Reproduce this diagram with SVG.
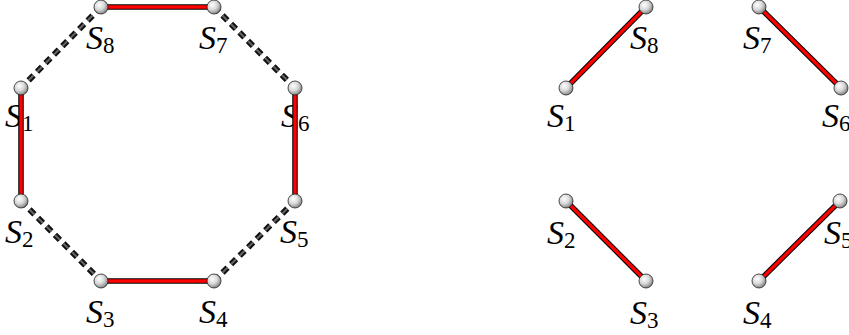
<svg xmlns="http://www.w3.org/2000/svg" width="849" height="335" viewBox="0 0 849 335">
<style>
.lbl{font-family:"Liberation Serif","DejaVu Serif",serif;font-size:34px;fill:#000}
.s{font-style:italic}
.sub{font-size:23px}
.ro{stroke:#000;stroke-width:5.5;fill:none}
.ri{stroke:#ff0000;stroke-width:3.4;fill:none}
.dO{stroke:#111;stroke-width:6;stroke-dasharray:7 5;fill:none}
.dI{stroke:#666;stroke-width:2;stroke-dasharray:7 5;fill:none}
.node{fill:url(#ball);stroke:#222;stroke-width:0.8}
</style>
<defs>
<radialGradient id="ball" cx="0.38" cy="0.35" r="0.7">
<stop offset="0" stop-color="#ffffff"/>
<stop offset="0.5" stop-color="#d8d8d8"/>
<stop offset="1" stop-color="#7a7a7a"/>
</radialGradient>
</defs>
<g id="labels">
<text class="lbl" x="86" y="49"><tspan class="s">S</tspan><tspan class="sub" dy="4">8</tspan></text>
<text class="lbl" x="199" y="49"><tspan class="s">S</tspan><tspan class="sub" dy="4">7</tspan></text>
<text class="lbl" x="5" y="127"><tspan class="s">S</tspan><tspan class="sub" dy="4">1</tspan></text>
<text class="lbl" x="281" y="127"><tspan class="s">S</tspan><tspan class="sub" dy="4">6</tspan></text>
<text class="lbl" x="5" y="243"><tspan class="s">S</tspan><tspan class="sub" dy="4">2</tspan></text>
<text class="lbl" x="280" y="243"><tspan class="s">S</tspan><tspan class="sub" dy="4">5</tspan></text>
<text class="lbl" x="86" y="323"><tspan class="s">S</tspan><tspan class="sub" dy="4">3</tspan></text>
<text class="lbl" x="199" y="323"><tspan class="s">S</tspan><tspan class="sub" dy="4">4</tspan></text>
<text class="lbl" x="630" y="49"><tspan class="s">S</tspan><tspan class="sub" dy="4">8</tspan></text>
<text class="lbl" x="743" y="49"><tspan class="s">S</tspan><tspan class="sub" dy="4">7</tspan></text>
<text class="lbl" x="547" y="127"><tspan class="s">S</tspan><tspan class="sub" dy="4">1</tspan></text>
<text class="lbl" x="822" y="127"><tspan class="s">S</tspan><tspan class="sub" dy="4">6</tspan></text>
<text class="lbl" x="547" y="244"><tspan class="s">S</tspan><tspan class="sub" dy="4">2</tspan></text>
<text class="lbl" x="824" y="244"><tspan class="s">S</tspan><tspan class="sub" dy="4">5</tspan></text>
<text class="lbl" x="630" y="324"><tspan class="s">S</tspan><tspan class="sub" dy="4">3</tspan></text>
<text class="lbl" x="743" y="324"><tspan class="s">S</tspan><tspan class="sub" dy="4">4</tspan></text>
</g>
<g id="connectors">
<line class="dO" x1="101" y1="7" x2="21" y2="88"/><line class="dI" x1="101" y1="7" x2="21" y2="88"/>
<line class="dO" x1="214" y1="7" x2="295" y2="88"/><line class="dI" x1="214" y1="7" x2="295" y2="88"/>
<line class="dO" x1="21" y1="201" x2="101" y2="281"/><line class="dI" x1="21" y1="201" x2="101" y2="281"/>
<line class="dO" x1="214" y1="281" x2="295" y2="201"/><line class="dI" x1="214" y1="281" x2="295" y2="201"/>
<line class="ro" x1="101" y1="7" x2="214" y2="7"/><line class="ri" x1="101" y1="7" x2="214" y2="7"/>
<line class="ro" x1="21" y1="88" x2="21" y2="201"/><line class="ri" x1="21" y1="88" x2="21" y2="201"/>
<line class="ro" x1="101" y1="281" x2="214" y2="281"/><line class="ri" x1="101" y1="281" x2="214" y2="281"/>
<line class="ro" x1="295" y1="88" x2="295" y2="201"/><line class="ri" x1="295" y1="88" x2="295" y2="201"/>
<line class="ro" x1="566" y1="88" x2="646" y2="7"/><line class="ri" x1="566" y1="88" x2="646" y2="7"/>
<line class="ro" x1="759" y1="7" x2="841" y2="88"/><line class="ri" x1="759" y1="7" x2="841" y2="88"/>
<line class="ro" x1="566" y1="201" x2="646" y2="281"/><line class="ri" x1="566" y1="201" x2="646" y2="281"/>
<line class="ro" x1="759" y1="281" x2="840" y2="201"/><line class="ri" x1="759" y1="281" x2="840" y2="201"/>
</g>
<g id="S1"><circle class="node" cx="21" cy="88" r="7"/></g>
<g id="S2"><circle class="node" cx="21" cy="201" r="7"/></g>
<g id="S3"><circle class="node" cx="101" cy="281" r="7"/></g>
<g id="S4"><circle class="node" cx="214" cy="281" r="7"/></g>
<g id="S5"><circle class="node" cx="295" cy="201" r="7"/></g>
<g id="S6"><circle class="node" cx="295" cy="88" r="7"/></g>
<g id="S7"><circle class="node" cx="214" cy="7" r="7"/></g>
<g id="S8"><circle class="node" cx="101" cy="7" r="7"/></g>
<g id="R1"><circle class="node" cx="566" cy="88" r="7"/></g>
<g id="R8"><circle class="node" cx="646" cy="7" r="7"/></g>
<g id="R7"><circle class="node" cx="759" cy="7" r="7"/></g>
<g id="R6"><circle class="node" cx="841" cy="88" r="7"/></g>
<g id="R2"><circle class="node" cx="566" cy="201" r="7"/></g>
<g id="R3"><circle class="node" cx="646" cy="281" r="7"/></g>
<g id="R4"><circle class="node" cx="759" cy="281" r="7"/></g>
<g id="R5"><circle class="node" cx="840" cy="201" r="7"/></g>
</svg>
